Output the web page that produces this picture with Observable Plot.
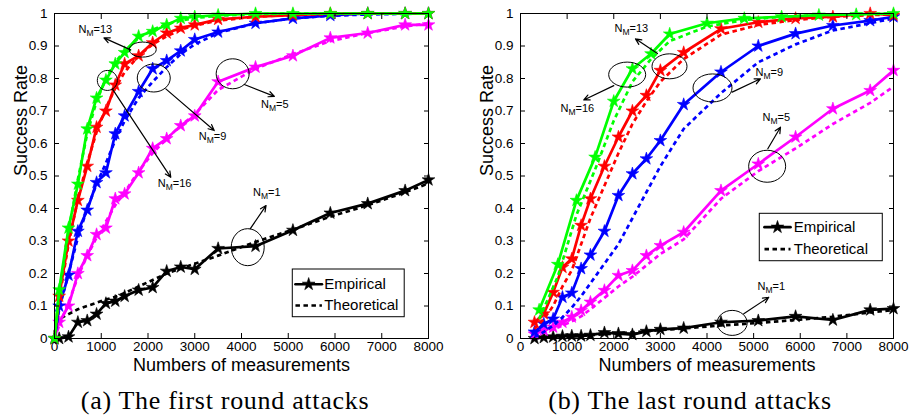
<!DOCTYPE html>
<html><head><meta charset="utf-8">
<script src="https://cdn.jsdelivr.net/npm/d3@7"></script>
<script src="https://cdn.jsdelivr.net/npm/@observablehq/plot@0.6"></script>
<style>
body{margin:0;background:#fff;}
#wrap{position:relative;width:909px;height:420px;overflow:hidden;background:#fff;}
.panel{position:absolute;top:0;}
.cap{position:absolute;top:387px;height:28px;line-height:28px;font-family:"Liberation Serif","Times New Roman",serif;font-size:26px;letter-spacing:0.7px;text-align:center;white-space:nowrap;color:#000;}
</style></head><body>
<div id="wrap">
  <div class="panel" id="pa" style="left:0px"></div>
  <div class="panel" id="pb" style="left:455px"></div>
  <div class="cap" style="left:65px;width:320px">(a) The first round attacks</div>
  <div class="cap" style="left:530px;width:320px">(b) The last round attacks</div>
</div>
<script>
// ---------- tick labels ----------
const xTicks = [0,1000,2000,3000,4000,5000,6000,7000,8000];
const yTicks = [0,0.1,0.2,0.3,0.4,0.5,0.6,0.7,0.8,0.9,1];
const seriesLabels = ["1","5","9","13","16"]; // N_M values
const seriesColors = ["#000000","#ff00ff","#0000ff","#ff0000","#00ff00"];
const legendLabels = ["Empirical","Theoretical"];

// ---------- panel (a): first round ----------
const xA = [0,100,300,500,700,900,1100,1300,1500,1800,2100,2400,2700,3000,3500,4300,5100,5900,6700,7500,8000];
const a1Emp  = [0,0,0.005,0.05,0.055,0.075,0.108,0.115,0.13,0.149,0.157,0.207,0.22,0.213,0.277,0.284,0.333,0.386,0.415,0.455,0.488];
const a1Theo = [0.02,0.06,0.075,0.09,0.1,0.11,0.12,0.128,0.14,0.16,0.18,0.2,0.215,0.23,0.255,0.297,0.335,0.375,0.41,0.45,0.477];
const a5Emp  = [0,0.05,0.10,0.20,0.255,0.32,0.34,0.43,0.445,0.51,0.585,0.615,0.655,0.685,0.79,0.835,0.87,0.925,0.94,0.965,0.965];
const a5Theo = [0,0.04,0.11,0.19,0.255,0.31,0.36,0.41,0.45,0.515,0.57,0.615,0.655,0.69,0.765,0.83,0.875,0.915,0.94,0.96,0.97];
const a9Emp  = [0,0.10,0.195,0.33,0.395,0.48,0.51,0.63,0.685,0.76,0.83,0.855,0.885,0.92,0.943,0.97,0.985,0.994,1,1,1];
const a9Theo = [0,0.09,0.2,0.31,0.40,0.475,0.54,0.61,0.67,0.74,0.79,0.835,0.875,0.905,0.94,0.97,0.985,0.993,0.997,0.999,1];
const a13Emp = [0,0.13,0.30,0.425,0.53,0.65,0.70,0.78,0.845,0.87,0.91,0.94,0.955,0.965,0.982,0.99,0.995,1,1,1,1];
const a13Theo= [0,0.12,0.29,0.43,0.54,0.635,0.71,0.77,0.82,0.87,0.905,0.93,0.95,0.963,0.978,0.99,0.996,0.998,1,1,1];
const a16Emp = [0,0.15,0.34,0.475,0.645,0.74,0.795,0.845,0.88,0.93,0.945,0.965,0.985,0.99,0.995,1,1,1,1,1,1];
const a16Theo= [0,0.14,0.33,0.49,0.63,0.73,0.80,0.85,0.885,0.925,0.95,0.967,0.978,0.986,0.993,0.998,1,1,1,1,1];

// ---------- panel (b): last round ----------
const xB  = [300,500,700,900,1100,1300,1500,1800,2100,2400,2700,3000,3500,4300,5100,5900,6700,7500,8000];
const xBg = [400,800,1200,1600,2000,2400,2800,3200,4000,4800,5600,6400,7200,8000];
const b1Emp  = [0,0.003,0.005,0.007,0.008,0.008,0.01,0.018,0.015,0.012,0.022,0.028,0.032,0.05,0.055,0.068,0.057,0.088,0.092];
const b1Theo = [0.001,0.002,0.003,0.005,0.006,0.008,0.01,0.013,0.016,0.019,0.022,0.026,0.031,0.04,0.048,0.057,0.067,0.08,0.088];
const b5Emp  = [0.014,0.025,0.035,0.05,0.066,0.086,0.112,0.148,0.194,0.209,0.255,0.286,0.327,0.455,0.537,0.62,0.707,0.763,0.825];
const b5Theo = [0.01,0.018,0.028,0.04,0.053,0.068,0.09,0.125,0.16,0.19,0.225,0.26,0.305,0.43,0.515,0.585,0.66,0.725,0.775];
const b9Emp  = [0.02,0.045,0.06,0.127,0.14,0.215,0.257,0.33,0.44,0.507,0.553,0.609,0.72,0.82,0.90,0.938,0.963,0.978,0.99];
const b9Theo = [0.005,0.02,0.04,0.065,0.095,0.13,0.17,0.23,0.29,0.37,0.45,0.53,0.645,0.755,0.85,0.905,0.948,0.97,0.985];
const b13Emp = [0.05,0.076,0.142,0.219,0.245,0.348,0.43,0.53,0.62,0.70,0.748,0.825,0.88,0.953,0.973,0.985,0.99,1,0.995];
const b13Theo= [0.03,0.06,0.1,0.16,0.21,0.29,0.37,0.47,0.57,0.66,0.73,0.79,0.86,0.935,0.965,0.98,0.99,0.995,0.997];
const b16Emp = [0.088,0.228,0.425,0.558,0.73,0.83,0.876,0.937,0.97,0.985,0.99,0.995,0.997,1];
const b16Theo= [0.06,0.19,0.38,0.52,0.67,0.79,0.86,0.915,0.96,0.98,0.99,0.995,0.998,1];

// ---------- annotation placement (data coords) ----------
const annA = [
  {n:"13", ex:1887, ey:0.889, ax1:1630, ay1:0.888, ax2:1057, ay2:0.925, tx:515,  ty:0.952},
  {n:"16", ex:1130, ey:0.794, ax1:1237, ay1:0.768, ax2:2488, ay2:0.496, tx:2209, ty:0.477},
  {n:"9",  ex:2123, ey:0.8015,ax1:2381, ay1:0.768, ax2:3417, ay2:0.64,  tx:3088, ty:0.6215},
  {n:"5",  ex:3811, ey:0.8145,ax1:4060, ay1:0.7815,ax2:4704, ay2:0.745, tx:4418, ty:0.72},
  {n:"1",  ex:4133, ey:0.281, ax1:4189, ay1:0.338, ax2:4525, ay2:0.409, tx:4247, ty:0.449}
];
const ellA = [[13.5,7.5],[10,10],[16.5,14],[16.5,15],[16.5,18.5]];
const annB = [
  {n:"16", ex:2288, ey:0.812, ax1:2001, ay1:0.778, ax2:1357, ay2:0.734, tx:858,  ty:0.708},
  {n:"13", ex:3196, ey:0.8375,ax1:2938, ay1:0.877, ax2:2466, ay2:0.922, tx:2016, ty:0.954},
  {n:"9",  ex:4118, ey:0.771, ax1:4540, ay1:0.758, ax2:5147, ay2:0.799, tx:5040, ty:0.818},
  {n:"5",  ex:5290, ey:0.53,  ax1:5304, ay1:0.584, ax2:5576, ay2:0.65,  tx:5190, ty:0.68},
  {n:"1",  ex:4540, ey:0.048, ax1:4789, ay1:0.076, ax2:5325, ay2:0.127, tx:5083, ty:0.16}
];
const ellB = [[18.5,12.5],[17.5,12.5],[19.5,14],[18.5,16],[15,12.5]];
const legA = {x1:5097, x2:7491, y1:0.0655, y2:0.2123, r1:0.167, r2:0.1015, l1:5154, l2:5720, tx:5769};
const legB = {x1:5132, x2:7770, y1:0.2378, y2:0.3837, r1:0.3425, r2:0.2748, l1:5233, l2:5791, tx:5861};

// ---------- helpers ----------
const pts = (xs, ys) => xs.map((x, i) => ({x, y: ys[i]}));
function ellipseSymbol(rx, ry) {
  const k = 0.5522847498;
  return {draw(c) {
    c.moveTo(rx, 0);
    c.bezierCurveTo(rx, ry*k, rx*k, ry, 0, ry);
    c.bezierCurveTo(-rx*k, ry, -rx, ry*k, -rx, 0);
    c.bezierCurveTo(-rx, -ry*k, -rx*k, -ry, 0, -ry);
    c.bezierCurveTo(rx*k, -ry, rx, -ry*k, rx, 0);
    c.closePath();
  }};
}
const LW = 2.7, SR = 4.0, DASH = "4.5,3.5";

function panel({series, ann, ell, leg, width, ml, mr}) {
  const marks = [];
  series.forEach(s => {
    const e = pts(s.x, s.emp), t = pts(s.x, s.theo);
    marks.push(Plot.line(e, {x:"x", y:"y", stroke:s.color, strokeWidth:LW}));
    marks.push(Plot.dot(e, {x:"x", y:"y", symbol:"star", r:SR, fill:s.color, stroke:s.color, strokeWidth:0.6}));
    marks.push(Plot.line(t, {x:"x", y:"y", stroke:s.color, strokeWidth:LW, strokeDasharray:DASH, strokeLinecap:"butt"}));
  });
  // annotations
  ann.forEach((a, i) => {
    marks.push(Plot.dot([a], {x:"ex", y:"ey", symbol:ellipseSymbol(ell[i][0], ell[i][1]), r:5, fill:"none", stroke:"black", strokeWidth:1}));
  });
  marks.push(Plot.arrow(ann, {x1:"ax1", y1:"ay1", x2:"ax2", y2:"ay2", stroke:"black", strokeWidth:1.2, headLength:8, headAngle:50}));
  marks.push(Plot.text(ann, {x:"tx", y:"ty", text:() => "N", textAnchor:"start", fontSize:11, fill:"black"}));
  marks.push(Plot.text(ann, {x:"tx", y:"ty", text:() => "M", textAnchor:"start", dx:8, dy:4, fontSize:8.5, fill:"black"}));
  marks.push(Plot.text(ann, {x:"tx", y:"ty", text:d => "=" + d.n, textAnchor:"start", dx:15, fontSize:11, fill:"black"}));
  // legend
  marks.push(Plot.rect([leg], {x1:"x1", x2:"x2", y1:"y1", y2:"y2", fill:"white", stroke:"black", strokeWidth:1}));
  const ls1 = [{x:leg.l1, y:leg.r1},{x:leg.l2, y:leg.r1}];
  const ls2 = [{x:leg.l1, y:leg.r2},{x:leg.l2, y:leg.r2}];
  marks.push(Plot.line(ls1, {x:"x", y:"y", stroke:"black", strokeWidth:LW}));
  marks.push(Plot.dot([{x:(leg.l1+leg.l2)/2, y:leg.r1}], {x:"x", y:"y", symbol:"star", r:SR, fill:"black", stroke:"black", strokeWidth:0.6}));
  marks.push(Plot.line(ls2, {x:"x", y:"y", stroke:"black", strokeWidth:LW, strokeDasharray:DASH, strokeLinecap:"butt"}));
  marks.push(Plot.text([{x:leg.tx, y:leg.r1, t:legendLabels[0]},{x:leg.tx, y:leg.r2, t:legendLabels[1]}], {x:"x", y:"y", text:"t", textAnchor:"start", fontSize:15, fill:"black"}));
  // axes & frame
  marks.push(Plot.frame({stroke:"black", strokeWidth:1}));
  marks.push(Plot.axisX({anchor:"bottom", ticks:xTicks, tickSize:-5, tickPadding:8, tickFormat:d => String(d), label:null, fontSize:13.5}));
  marks.push(Plot.axisX({anchor:"top", ticks:xTicks, tickSize:-5, tickFormat:() => "", label:null}));
  marks.push(Plot.axisY({anchor:"left", ticks:yTicks, tickSize:-5, tickPadding:12, tickFormat:d => String(d), label:null, fontSize:13.5}));
  marks.push(Plot.axisY({anchor:"right", ticks:yTicks, tickSize:-5, tickFormat:() => "", label:null}));
  marks.push(Plot.text(["Success Rate"], {frameAnchor:"left", dx:-33, rotate:-90, fontSize:18, fill:"black"}));
  marks.push(Plot.text(["Numbers of measurements"], {frameAnchor:"bottom", lineAnchor:"middle", dy:27, fontSize:18, fill:"black"}));
  return Plot.plot({
    width, height:420, marginLeft:ml, marginRight:mr, marginTop:13, marginBottom:82,
    x:{domain:[0,8000]}, y:{domain:[0,1]},
    style:{fontFamily:"'Liberation Sans', Arial, sans-serif", fontSize:"13.5px", color:"black", background:"transparent", overflow:"visible"},
    marks
  });
}

function build(xs, xg, emps, theos) {
  return emps.map((e, i) => ({x: (i === 4 && xg) ? xg : xs, emp:e, theo:theos[i], color:seriesColors[i], label:seriesLabels[i]}));
}

const seriesA = build(xA, null, [a1Emp,a5Emp,a9Emp,a13Emp,a16Emp], [a1Theo,a5Theo,a9Theo,a13Theo,a16Theo]);
const seriesB = build(xB, xBg, [b1Emp,b5Emp,b9Emp,b13Emp,b16Emp], [b1Theo,b5Theo,b9Theo,b13Theo,b16Theo]);

document.getElementById("pa").appendChild(panel({series:seriesA, ann:annA, ell:ellA, leg:legA, width:455, ml:54, mr:27}));
document.getElementById("pb").appendChild(panel({series:seriesB, ann:annB, ell:ellB, leg:legB, width:454, ml:65, mr:16}));
</script>
</body></html>
